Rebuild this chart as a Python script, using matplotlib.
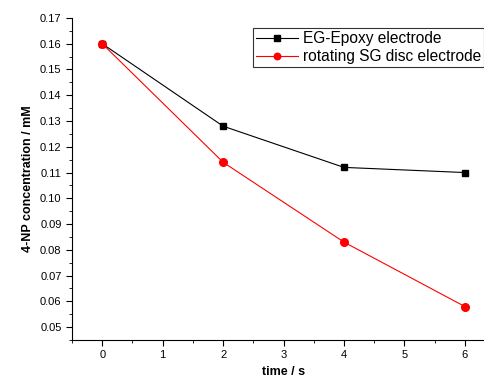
import matplotlib
matplotlib.use('Agg')
import matplotlib.pyplot as plt
from matplotlib.ticker import MultipleLocator

plt.rcParams['font.family'] = ['Liberation Sans', 'DejaVu Sans']

time_s = [0, 2, 4, 6]
eg_epoxy = [0.160, 0.128, 0.112, 0.110]
sg_disc = [0.160, 0.114, 0.083, 0.058]

fig = plt.figure(figsize=(4.84, 3.88), dpi=100)
ax = fig.add_axes([0.1488, 0.1237, 0.874, 0.83])

ax.plot(time_s, eg_epoxy, color='black', lw=0.8, marker='s', ms=4.5,
        label='EG-Epoxy electrode')
ax.plot(time_s, sg_disc, color='red', lw=0.8, marker='o', ms=5.5,
        label='rotating SG disc electrode')

ax.set_xlim(-0.5, 6.5)
ax.set_ylim(0.045, 0.17)
ax.xaxis.set_major_locator(MultipleLocator(1))
ax.xaxis.set_minor_locator(MultipleLocator(0.5))
ax.yaxis.set_major_locator(MultipleLocator(0.01))
ax.yaxis.set_minor_locator(MultipleLocator(0.005))
ax.yaxis.set_major_formatter(matplotlib.ticker.FormatStrFormatter('%.2f'))

for s in ['top', 'right']:
    ax.spines[s].set_visible(False)
ax.tick_params(which='both', direction='out', labelsize=8)
ax.tick_params(which='major', length=4)
ax.tick_params(which='minor', length=2.5)

ax.set_xlabel('time / s', fontsize=9, fontweight='bold')
ax.set_ylabel('4-NP concentration / mM', fontsize=9, fontweight='bold')

leg = fig.legend(loc='upper left', bbox_to_anchor=(253 / 484, 1 - 28 / 388),
                 fontsize=11.2, frameon=True, fancybox=False, edgecolor='black',
                 borderpad=0.2, labelspacing=0.2, handlelength=2.7,
                 handletextpad=0.3, borderaxespad=0, markerscale=0.85)
leg.get_frame().set_linewidth(0.8)

fig.savefig('out.png', dpi=100)
